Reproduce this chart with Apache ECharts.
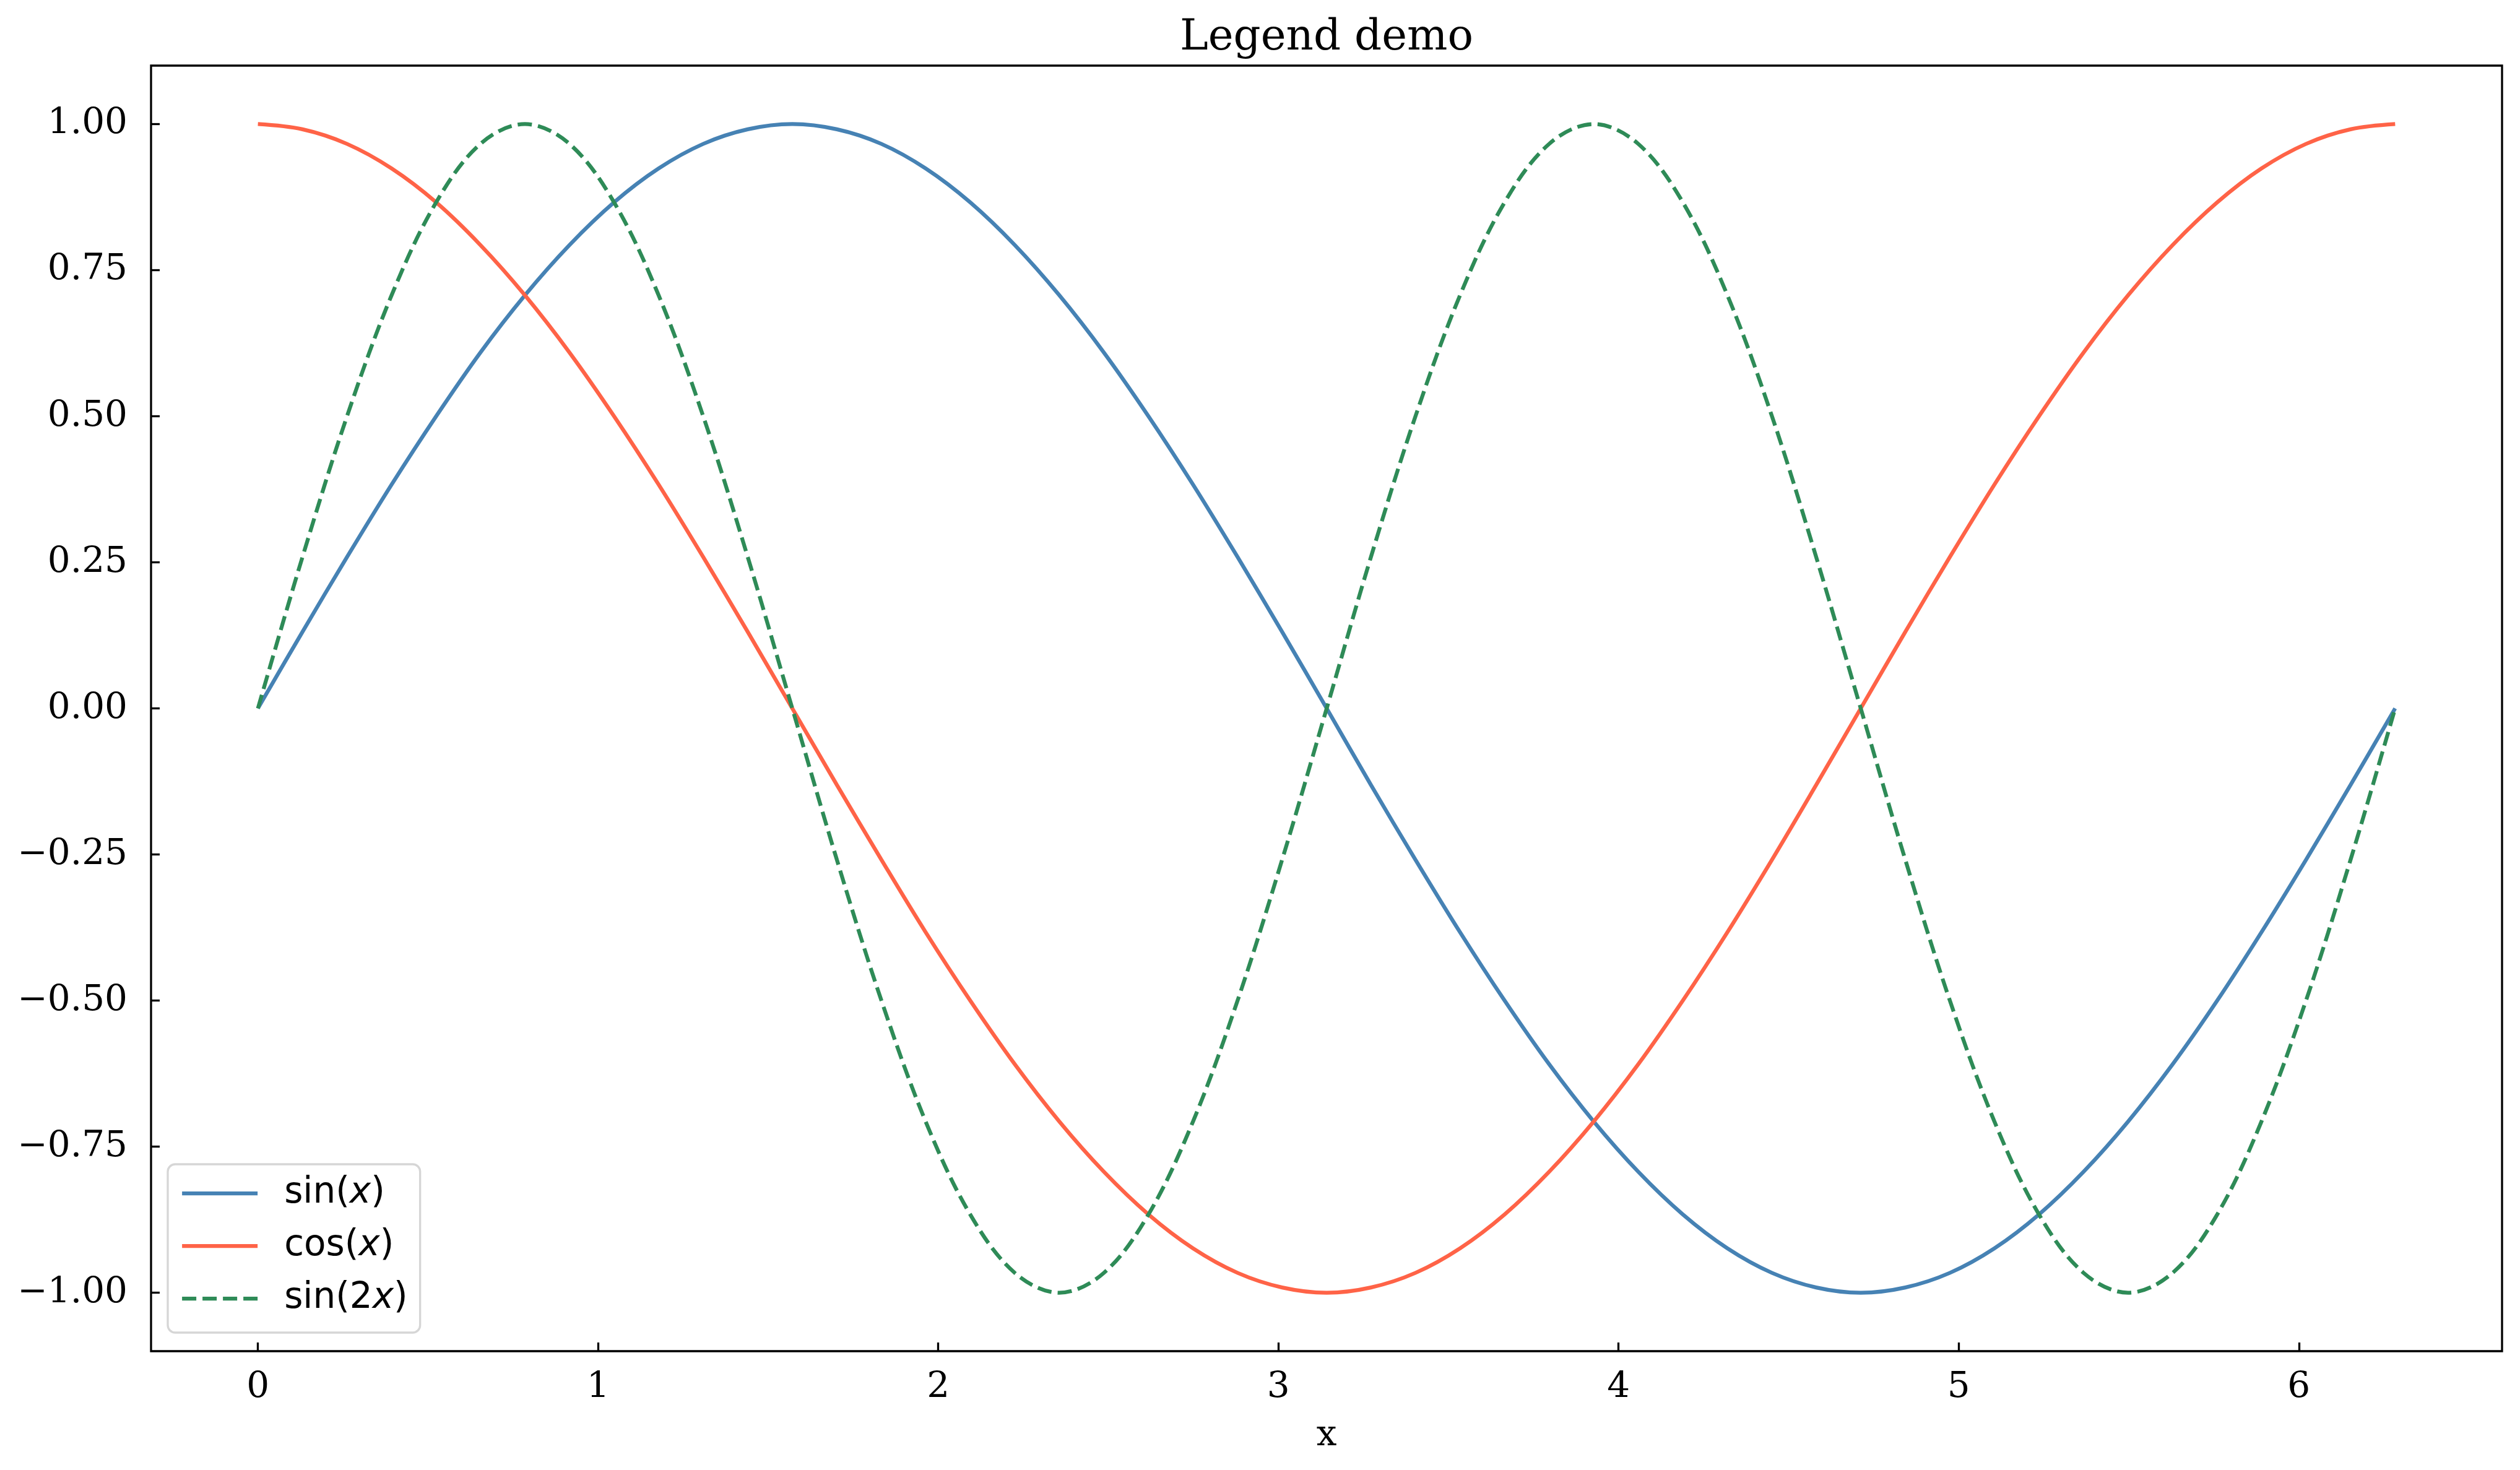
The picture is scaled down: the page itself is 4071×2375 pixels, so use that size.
<!DOCTYPE html>
<html>
<head>
<meta charset="utf-8">
<title>Legend demo</title>
<script src="https://cdn.jsdelivr.net/npm/echarts@6/dist/echarts.min.js"></script>
<style>
  html, body { margin: 0; padding: 0; background: #fff; }
  #chart { width: 4071px; height: 2375px; }
</style>
</head>
<body>
<div id="chart"></div>
<script>
// sample points along x (0 .. 2π)
const xValues = [0, 0.131, 0.262, 0.393, 0.524, 0.654, 0.785, 0.916, 1.047, 1.178, 1.309, 1.440,
  1.571, 1.702, 1.833, 1.963, 2.094, 2.225, 2.356, 2.487, 2.618, 2.749, 2.880, 3.011,
  3.142, 3.272, 3.403, 3.534, 3.665, 3.796, 3.927, 4.058, 4.189, 4.320, 4.451, 4.581,
  4.712, 4.843, 4.974, 5.105, 5.236, 5.367, 5.498, 5.629, 5.760, 5.890, 6.021, 6.152, 6.283]

const sinValues = [0, 0.131, 0.259, 0.383, 0.5, 0.609, 0.707, 0.793, 0.866, 0.924, 0.966, 0.991,
  1, 0.991, 0.966, 0.924, 0.866, 0.793, 0.707, 0.609, 0.5, 0.383, 0.259, 0.131,
  0, -0.131, -0.259, -0.383, -0.5, -0.609, -0.707, -0.793, -0.866, -0.924, -0.966, -0.991,
  -1, -0.991, -0.966, -0.924, -0.866, -0.793, -0.707, -0.609, -0.5, -0.383, -0.259, -0.131, 0]

const cosValues = [1, 0.991, 0.966, 0.924, 0.866, 0.793, 0.707, 0.609, 0.5, 0.383, 0.259, 0.131,
  0, -0.131, -0.259, -0.383, -0.5, -0.609, -0.707, -0.793, -0.866, -0.924, -0.966, -0.991,
  -1, -0.991, -0.966, -0.924, -0.866, -0.793, -0.707, -0.609, -0.5, -0.383, -0.259, -0.131,
  0, 0.131, 0.259, 0.383, 0.5, 0.609, 0.707, 0.793, 0.866, 0.924, 0.966, 0.991, 1]

const sin2Values = [0, 0.259, 0.5, 0.707, 0.866, 0.966, 1, 0.966, 0.866, 0.707, 0.5, 0.259,
  0, -0.259, -0.5, -0.707, -0.866, -0.966, -1, -0.966, -0.866, -0.707, -0.5, -0.259,
  0, 0.259, 0.5, 0.707, 0.866, 0.966, 1, 0.966, 0.866, 0.707, 0.5, 0.259,
  0, -0.259, -0.5, -0.707, -0.866, -0.966, -1, -0.966, -0.866, -0.707, -0.5, -0.259, 0]

const xTicks = [0, 1, 2, 3, 4, 5, 6]
const yTicks = [-1, -0.75, -0.5, -0.25, 0, 0.25, 0.5, 0.75, 1]

const SERIF = 'DejaVu Serif'
const SANS = 'DejaVu Sans'
const LW = 6.25

const chart = echarts.init(document.getElementById('chart'))

function pairs(ys) {
  return xValues.map((x, i) => [x, ys[i]])
}

// 轴刻度标签：负号用 U+2212
function fmtY(v) {
  return (v < 0 ? '\u2212' : '') + Math.abs(v).toFixed(2)
}

const lineBase = {
  type: 'line',
  smooth: 0.35,
  symbol: 'none',
  clip: false,
}

chart.setOption({
  animation: false,
  backgroundColor: '#fff',
  title: {
    text: 'Legend demo',
    left: 2143,
    top: 28,
    padding: 0,
    textAlign: 'center',
    textStyle: { fontFamily: SERIF, fontSize: 69, fontWeight: 'normal', color: '#000' },
  },
  grid: {
    left: 244, right: 29, top: 106, bottom: 192,
    show: true,
    borderColor: '#000',
    borderWidth: 3.3,
    backgroundColor: 'transparent',
  },
  legend: {
    orient: 'vertical',
    left: 271,
    top: 1881,
    padding: [18, 20, 26, 20],
    itemGap: 27,
    itemWidth: 122,
    itemHeight: 2,
    backgroundColor: 'rgba(255,255,255,0.8)',
    borderColor: '#d6d6d6',
    borderWidth: 3.3,
    borderRadius: 12,
    itemStyle: { color: 'rgba(0,0,0,0)', borderWidth: 0 },
    lineStyle: { width: LW },
    data: ['sin(x)', 'cos(x)', 'sin(2x)'],
    // 图例文字：x 用斜体；前面留出与线段的间距
    formatter: (name) => {
      const [a, b] = name.split('x')
      return `{g| }{n|${a}}{i|x}{n|${b}}`
    },
    textStyle: {
      color: '#000',
      fontFamily: SANS,
      fontSize: 58,
      rich: {
        g: { width: 38, fontSize: 58, lineHeight: 58 },
        n: { fontFamily: SANS, fontSize: 58, lineHeight: 58, color: '#000' },
        i: { fontFamily: SANS, fontSize: 58, lineHeight: 58, fontStyle: 'italic', color: '#000' },
      },
    },
  },
  xAxis: {
    type: 'value',
    min: -0.3142,
    max: 6.5973,
    name: 'x',
    nameLocation: 'middle',
    nameGap: 108,
    nameTextStyle: { fontFamily: SERIF, fontSize: 58, color: '#000' },
    axisLine: { show: false, onZero: false },
    splitLine: { show: false },
    axisTick: {
      show: true, inside: true, length: 14,
      customValues: xTicks,
      lineStyle: { color: '#000', width: 3.3 },
    },
    axisLabel: {
      customValues: xTicks,
      margin: 30,
      fontFamily: SERIF, fontSize: 58, color: '#000',
    },
  },
  yAxis: {
    type: 'value',
    min: -1.1,
    max: 1.1,
    axisLine: { show: false, onZero: false },
    splitLine: { show: false },
    axisTick: {
      show: true, inside: true, length: 14,
      customValues: yTicks,
      lineStyle: { color: '#000', width: 3.3 },
    },
    axisLabel: {
      customValues: yTicks,
      margin: 38,
      formatter: fmtY,
      fontFamily: SERIF, fontSize: 58, color: '#000',
    },
  },
  series: [
    {
      ...lineBase,
      name: 'sin(x)',
      data: pairs(sinValues),
      lineStyle: { color: '#4682b4', width: LW },
      itemStyle: { color: '#4682b4' },
    },
    {
      ...lineBase,
      name: 'cos(x)',
      data: pairs(cosValues),
      lineStyle: { color: '#ff6347', width: LW },
      itemStyle: { color: '#ff6347' },
    },
    {
      ...lineBase,
      name: 'sin(2x)',
      data: pairs(sin2Values),
      lineStyle: { color: '#2e8b57', width: LW, type: [23, 10] },
      itemStyle: { color: '#2e8b57' },
    },
  ],
})
</script>
</body>
</html>
